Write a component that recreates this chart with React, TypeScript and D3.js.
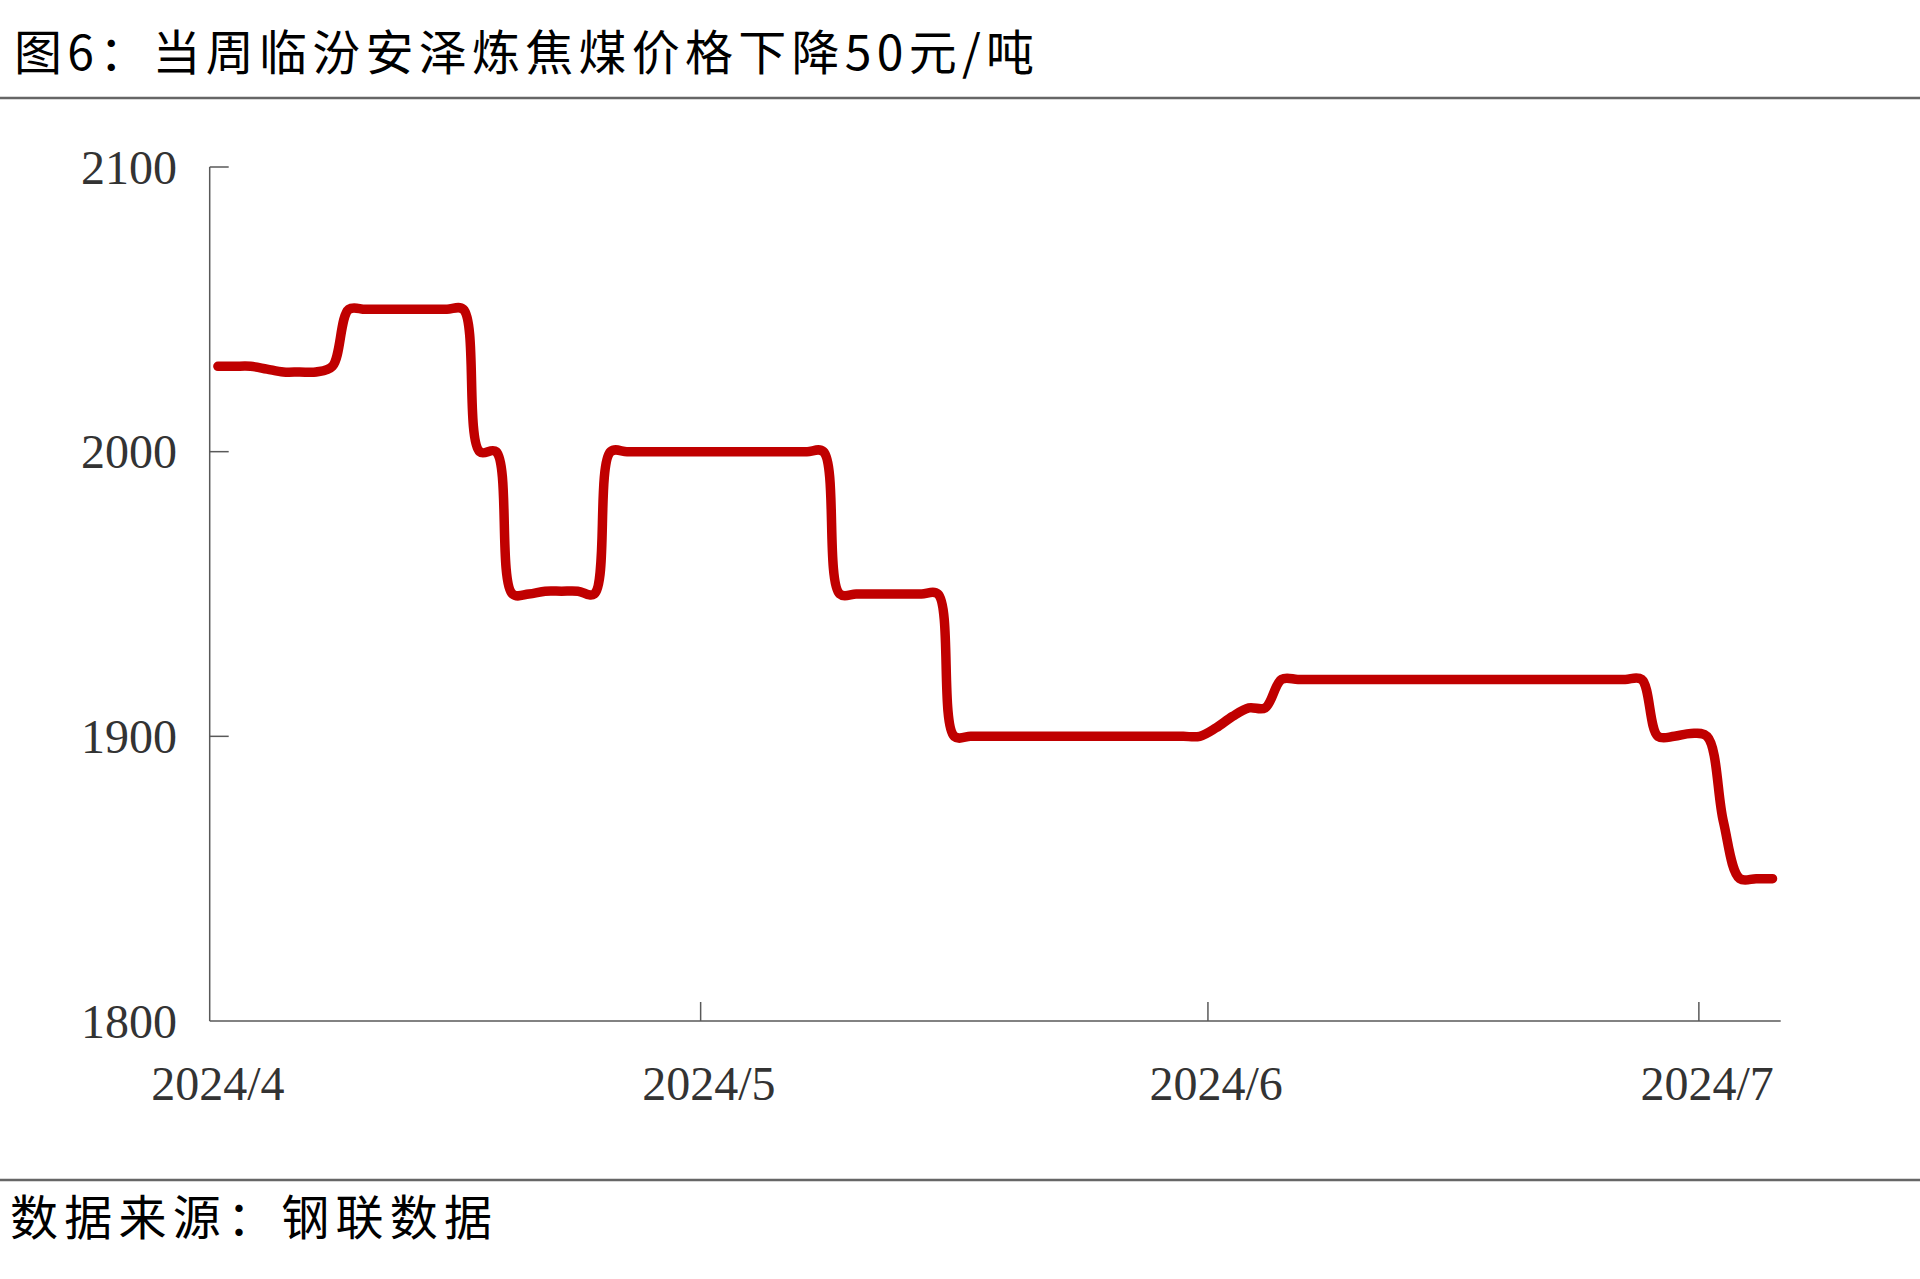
import React from 'react';
import * as d3 from 'd3';

// ---------- data ----------
const startDate = '2024-04-01';
const axisEndDate = '2024-07-06';
// daily price (元/吨), one value per calendar day
const aprPrices = [
  2030, 2030, 2030, 2029, 2028, 2028, 2028, 2030,
  2050, 2050, 2050, 2050, 2050, 2050, 2050, 2050,
  2000, 2000,
  1950, 1950, 1951, 1951, 1951, 1950,
  2000, 2000, 2000, 2000, 2000, 2000,
];
const mayPrices = [
  2000, 2000, 2000, 2000, 2000, 2000, 2000, 2000,
  1950, 1950, 1950, 1950, 1950, 1950, 1950,
  1900, 1900, 1900, 1900, 1900, 1900, 1900, 1900,
  1900, 1900, 1900, 1900, 1900, 1900, 1900, 1900,
];
const junPrices = [
  1903, 1907, 1910, 1910,
  1920, 1920, 1920, 1920, 1920, 1920, 1920, 1920, 1920, 1920, 1920, 1920,
  1920, 1920, 1920, 1920, 1920, 1920, 1920, 1920, 1920, 1920, 1920,
  1900, 1900, 1901,
];
const julPrices = [1900, 1870, 1850, 1850, 1850];

const yTicks = [1800, 1900, 2000, 2100];
const monthTickDates = ['2024-04-01', '2024-05-01', '2024-06-01', '2024-07-01'];
const monthLabels = ['2024/4', '2024/5', '2024/6', '2024/7'];
const titleText = '图6：当周临汾安泽炼焦煤价格下降50元/吨';
const sourceText = '数据来源：钢联数据';

// ---------- layout ----------
const W = 1920;
const H = 1279;
const plot = { left: 209.7, right: 1780.7, top: 167, bottom: 1021 };
const axisColor = '#595959';
const labelColor = '#333333';
const lineColor = '#C00000';
const serif = '"Liberation Serif", "Times New Roman", serif';
const cjk = '"Noto Sans CJK SC", sans-serif';

export default function App() {
  const parse = d3.utcParse('%Y-%m-%d');
  const start = parse(startDate) as Date;
  const end = parse(axisEndDate) as Date;
  const prices = [...aprPrices, ...mayPrices, ...junPrices, ...julPrices];
  const points = prices.map((v, i) => ({ date: d3.utcDay.offset(start, i), value: v }));

  const x = d3.scaleUtc().domain([start, end]).range([plot.left, plot.right]);
  const y = d3.scaleLinear().domain([1800, 2100]).range([plot.bottom, plot.top]);
  const mid = (d: Date) => x(d3.utcHour.offset(d, 12));

  const line = d3
    .line<{ date: Date; value: number }>()
    .x((d) => mid(d.date))
    .y((d) => y(d.value))
    .curve(d3.curveCatmullRom.alpha(0.5));

  const monthDates = monthTickDates.map((s) => parse(s) as Date);

  return (
    <svg
      width={W}
      height={H}
      viewBox={`0 0 ${W} ${H}`}
      style={{ position: 'absolute', left: 0, top: 0, display: 'block', background: '#fff' }}
    >
      <rect x={0} y={0} width={W} height={H} fill="#fff" />
      {/* title */}
      <text
        x={14}
        y={70}
        fontFamily={cjk}
        fontSize={48}
        fill="#000"
        textLength={1020}
        lengthAdjust="spacing"
      >
        {titleText}
      </text>
      <line x1={0} x2={W} y1={98} y2={98} stroke="#666" strokeWidth={2.5} />

      {/* y axis */}
      <line x1={plot.left} x2={plot.left} y1={y(2100)} y2={plot.bottom} stroke={axisColor} strokeWidth={1.5} />
      {yTicks.map((t) => (
        <g key={t}>
          {t !== 1800 && (
            <line x1={plot.left} x2={plot.left + 19} y1={y(t)} y2={y(t)} stroke={axisColor} strokeWidth={1.5} />
          )}
          <text
            x={177}
            y={y(t)}
            dy="0.35em"
            textAnchor="end"
            fontFamily={serif}
            fontSize={48}
            fill={labelColor}
          >
            {t}
          </text>
        </g>
      ))}

      {/* x axis */}
      <line x1={plot.left} x2={plot.right} y1={plot.bottom} y2={plot.bottom} stroke={axisColor} strokeWidth={1.5} />
      {monthDates.map((d, i) => (
        <g key={i}>
          {i > 0 && (
            <line x1={x(d)} x2={x(d)} y1={plot.bottom} y2={plot.bottom - 19} stroke={axisColor} strokeWidth={1.5} />
          )}
          <text
            x={mid(d)}
            y={1100}
            textAnchor="middle"
            fontFamily={serif}
            fontSize={48}
            fill={labelColor}
          >
            {monthLabels[i]}
          </text>
        </g>
      ))}

      {/* series */}
      <path
        d={line(points) || ''}
        fill="none"
        stroke={lineColor}
        strokeWidth={9.5}
        strokeLinecap="round"
        strokeLinejoin="round"
      />

      {/* source */}
      <line x1={0} x2={W} y1={1180} y2={1180} stroke="#666" strokeWidth={2.5} />
      <text
        x={10}
        y={1235}
        fontFamily={cjk}
        fontSize={48}
        fill="#000"
        textLength={482}
        lengthAdjust="spacing"
      >
        {sourceText}
      </text>
    </svg>
  );
}
